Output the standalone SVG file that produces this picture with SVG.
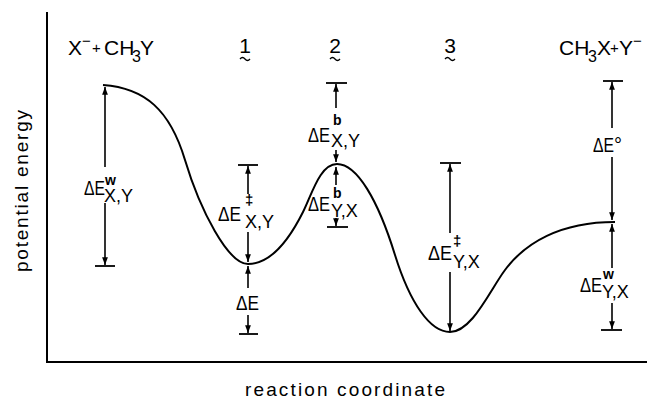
<svg xmlns="http://www.w3.org/2000/svg" width="647" height="402" viewBox="0 0 647 402">
<style>
text{font-family:"Liberation Sans",Arial,sans-serif;fill:#000}
.m{font-size:20px}
.sub{font-size:18px}
.sup{font-size:14px;font-weight:bold}
.dd{font-size:15px;font-weight:bold}
.t{font-size:21px}
.ln{stroke:#000;stroke-width:1.3;fill:none}
.bar{stroke:#000;stroke-width:1.8}
.ax{stroke:#000;stroke-width:2;fill:none}
.cv{stroke:#000;stroke-width:2;fill:none}
.ar{stroke:#000;stroke-width:1.6;fill:none;marker-end:url(#ah)}
</style>
<defs>
<marker id="ah" markerUnits="userSpaceOnUse" markerWidth="10" markerHeight="10" viewBox="-8 -4 9 8" refX="0" refY="0" orient="auto">
<path d="M0,0 L-7,-2.6 L-7,2.6 Z" fill="#000"/>
</marker>
</defs>
<rect width="647" height="402" fill="#fff"/>

<g id="axes">
<path class="ax" d="M47,12 V362 H647"/>
<text transform="translate(28,191) rotate(-90)" text-anchor="middle" font-size="19" textLength="162" lengthAdjust="spacing">potential energy</text>
<text x="345" y="396" text-anchor="middle" font-size="19" textLength="200" lengthAdjust="spacing">reaction coordinate</text>
</g>

<g id="curve">
<path class="cv" d="M103,85 C145,88 170,110 185,160 C200,210 228,264 248,264 C272,264 290,238 303,212 C312,194 320,164 337,164 C357,164 378,200 395,255 C410,303 430,332 450,332 C472,332 490,290 505,270 C525,243 560,222 615,222"/>
</g>

<g id="species">
<g id="reactants">
<text class="t" y="55"><tspan x="68">X</tspan><tspan x="82" y="46" font-size="15">−</tspan><tspan x="92" y="53" font-size="15">+</tspan><tspan x="104" y="55">CH</tspan><tspan x="132" y="62" font-size="16">3</tspan><tspan x="140" y="55">Y</tspan></text>
</g>
<g id="species1">
<text class="t" x="245" y="53" text-anchor="middle">1</text>
<path class="ln" d="M240,59 q2.5,-3 5,0 t5,0"/>
</g>
<g id="species2">
<text class="t" x="335" y="53" text-anchor="middle">2</text>
<path class="ln" d="M330,59 q2.5,-3 5,0 t5,0"/>
</g>
<g id="species3">
<text class="t" x="450" y="53" text-anchor="middle">3</text>
<path class="ln" d="M445,59 q2.5,-3 5,0 t5,0"/>
</g>
<g id="products">
<text class="t" y="55"><tspan x="559">CH</tspan><tspan x="588" y="62" font-size="16">3</tspan><tspan x="597" y="55">X</tspan><tspan x="610" y="53" font-size="15">+</tspan><tspan x="619" y="55">Y</tspan><tspan x="633" y="46" font-size="15">−</tspan></text>
</g>
</g>

<g id="connectors">
<!-- ΔE^w X,Y -->
<line class="ar" x1="105" y1="167" x2="105" y2="87"/>
<line class="ar" x1="105" y1="203" x2="105" y2="265"/>
<line class="bar" x1="95" y1="266" x2="115" y2="266"/>
<!-- ΔE‡ X,Y -->
<line class="bar" x1="238" y1="165" x2="258" y2="165"/>
<line class="ar" x1="248" y1="194" x2="248" y2="166"/>
<line class="ar" x1="248" y1="232" x2="248" y2="262"/>
<!-- ΔE -->
<line class="ar" x1="248" y1="288" x2="248" y2="266"/>
<line class="ar" x1="248" y1="315" x2="248" y2="333"/>
<line class="bar" x1="239" y1="334" x2="258" y2="334"/>
<!-- ΔE^b X,Y -->
<line class="bar" x1="326" y1="83" x2="347" y2="83"/>
<line class="ar" x1="336" y1="108" x2="336" y2="84"/>
<line class="ar" x1="336" y1="150" x2="336" y2="162"/>
<!-- ΔE^b Y,X -->
<line class="ar" x1="336" y1="185" x2="336" y2="167"/>
<line class="ar" x1="336" y1="218" x2="336" y2="226"/>
<line class="bar" x1="327" y1="227" x2="348" y2="227"/>
<!-- ΔE‡ Y,X -->
<line class="bar" x1="440" y1="163" x2="461" y2="163"/>
<line class="ar" x1="450" y1="233" x2="450" y2="164"/>
<line class="ar" x1="450" y1="272" x2="450" y2="331"/>
<!-- ΔE° -->
<line class="bar" x1="603" y1="81" x2="623" y2="81"/>
<line class="ar" x1="612" y1="128" x2="612" y2="82"/>
<line class="ar" x1="612" y1="157" x2="612" y2="220"/>
<!-- ΔE^w Y,X -->
<line class="ar" x1="612" y1="268" x2="612" y2="224"/>
<line class="ar" x1="612" y1="303" x2="612" y2="329"/>
<line class="bar" x1="601" y1="330" x2="622" y2="330"/>
</g>

<g id="label-dEw-XY">
<text class="m"><tspan x="84" y="195" textLength="21" lengthAdjust="spacingAndGlyphs">ΔE</tspan><tspan class="sup" x="105" y="185">w</tspan><tspan class="sub" x="104" y="202">X,Y</tspan></text>
</g>
<g id="label-dEdd-XY">
<text class="m"><tspan x="218" y="221" textLength="23" lengthAdjust="spacingAndGlyphs">ΔE</tspan><tspan class="dd" x="245" y="205">‡</tspan><tspan class="sub" x="245" y="228">X,Y</tspan></text>
</g>
<g id="label-dE">
<text class="m" x="236" y="310" textLength="23" lengthAdjust="spacingAndGlyphs">ΔE</text>
</g>
<g id="label-dEb-XY">
<text class="m"><tspan x="308" y="142" textLength="22" lengthAdjust="spacingAndGlyphs">ΔE</tspan><tspan class="sup" x="333" y="125" font-size="15">b</tspan><tspan class="sub" x="331" y="147">X,Y</tspan></text>
</g>
<g id="label-dEb-YX">
<text class="m"><tspan x="308" y="211" textLength="22" lengthAdjust="spacingAndGlyphs">ΔE</tspan><tspan class="sup" x="333" y="198" font-size="15">b</tspan><tspan class="sub" x="331" y="217">Y,X</tspan></text>
</g>
<g id="label-dEdd-YX">
<text class="m"><tspan x="428" y="260" textLength="24" lengthAdjust="spacingAndGlyphs">ΔE</tspan><tspan class="dd" x="453" y="246">‡</tspan><tspan class="sub" x="453" y="268">Y,X</tspan></text>
</g>
<g id="label-dE0">
<text class="m"><tspan x="593" y="152" textLength="21" lengthAdjust="spacingAndGlyphs">ΔE</tspan><tspan x="614" y="152">°</tspan></text>
</g>
<g id="label-dEw-YX">
<text class="m"><tspan x="580" y="292" textLength="22" lengthAdjust="spacingAndGlyphs">ΔE</tspan><tspan class="sup" x="603" y="279">w</tspan><tspan class="sub" x="602" y="298">Y,X</tspan></text>
</g>
</svg>
